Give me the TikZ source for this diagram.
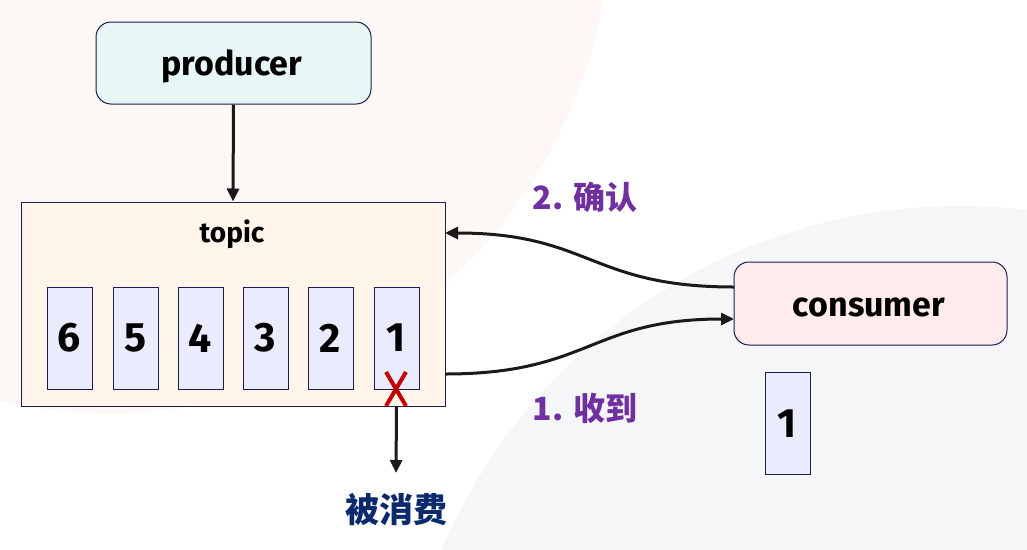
\documentclass[tikz,border=0pt]{standalone}
\usepackage{fontspec}
\setmainfont{Fira Sans}
\newfontfamily\cjk{Noto Sans CJK SC}
\usetikzlibrary{arrows.meta}
\definecolor{bgpink}{HTML}{FDF7F5}
\definecolor{bggray}{HTML}{F5F6F8}
\definecolor{navy}{HTML}{1C1C4E}
\definecolor{prodfill}{HTML}{E6F7F5}
\definecolor{topicfill}{HTML}{FFF5EA}
\definecolor{consfill}{HTML}{FFEBEB}
\definecolor{msgfill}{HTML}{EAECFD}
\definecolor{lblpurple}{HTML}{7030A0}
\definecolor{deepblue}{HTML}{0B2A6B}
\definecolor{xred}{HTML}{C00000}
\definecolor{linecol}{HTML}{1A1A1A}
\tikzset{
  rbox/.style={draw=navy, line width=1pt, rounded corners=15pt, inner sep=0pt},
  msgbox/.style={draw=navy, fill=msgfill, line width=1pt, minimum width=45pt, minimum height=102pt, inner sep=0pt, font=\bfseries\fontsize{41}{41}\selectfont},
  conn/.style={draw=linecol, line width=3pt, -{Triangle[length=13pt,width=12pt]}},
  lbl/.style={text=lblpurple, font=\cjk\bfseries\fontsize{32}{32}\selectfont, inner sep=0pt},
  boxtext/.style={font=\bfseries\fontsize{34}{34}\selectfont, inner sep=0pt}
}
\begin{document}
\begin{tikzpicture}[x=1pt,y=-1pt]
\useasboundingbox (0,0) rectangle (1027,549);
\begin{scope}
\clip (0,0) rectangle (1027,549);
\fill[white] (0,0) rectangle (1027,549);
\fill[bgpink] (110,-88) circle[radius=501];
\fill[bggray] (960,768) circle[radius=562];
\end{scope}
% producer
\node[rbox, fill=prodfill, minimum width=275pt, minimum height=82pt] (prod) at (233.5,63) {};
\node[boxtext] (prodlbl) at (232,66) {producer};
% topic
\node[draw=navy, fill=topicfill, line width=1pt, minimum width=424pt, minimum height=204pt, inner sep=0pt] (topic) at (233,304) {};
\node[font=\bfseries\fontsize{28}{28}\selectfont, inner sep=0pt] (topiclbl) at (232,234) {topic};
\node[msgbox] (m6) at (69.5,338) {6};
\node[msgbox] (m5) at (135.5,338) {5};
\node[msgbox] (m4) at (200.5,338) {4};
\node[msgbox] (m3) at (265.5,338) {3};
\node[msgbox] (m2) at (330.5,338) {2};
\node[msgbox] (m1) at (396.5,338) {1};
% consumer
\node[rbox, fill=consfill, minimum width=273pt, minimum height=83pt] (cons) at (870.5,303.5) {};
\node[boxtext] (conslbl) at (869,307) {consumer};
\node[msgbox] (c1) at (787.5,423.5) {1};
% red cross
\coordinate (xc) at (396,389);
\draw[xred, line width=4pt] ([shift={(-10,-17)}]xc) -- ([shift={(10,17)}]xc);
\draw[xred, line width=4pt] ([shift={(10,-17)}]xc) -- ([shift={(-10,17)}]xc);
% connectors
\draw[conn] (prod.south) -- (topic.north);
\coordinate (down) at (396,473);
\draw[conn] (topic.south -| m1.south) -- (down);
\node[text=deepblue, font=\cjk\bfseries\fontsize{34}{34}\selectfont, inner sep=0pt] (consumed) at (396,510) {被消费};
\coordinate (tout) at (445,374);
\coordinate (cin) at (734,319);
\draw[conn] (tout) .. controls (590,374) and (590,319) .. (cin);
\coordinate (cout) at (734,287);
\coordinate (tin) at (445,233);
\draw[conn] (cout) .. controls (590,287) and (590,233) .. (tin);
\node[lbl] (ack) at (585,197) {2. 确认};
\node[lbl] (recv) at (585,408) {1. 收到};
\end{tikzpicture}
\end{document}
